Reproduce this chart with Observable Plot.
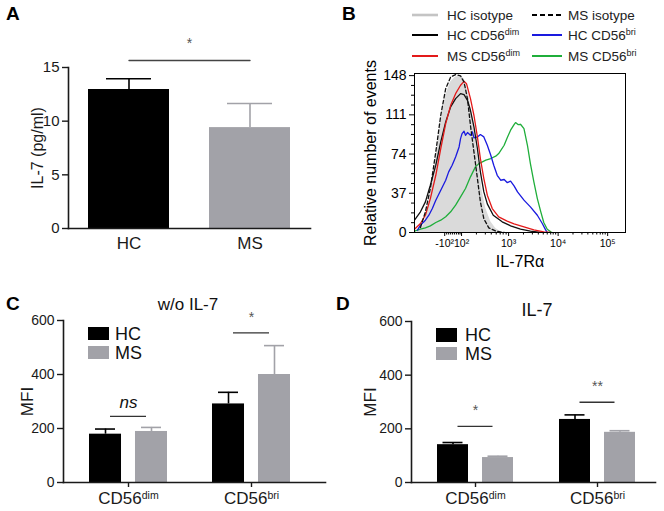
<!DOCTYPE html>
<html>
<head>
<meta charset="utf-8">
<script src="https://cdn.jsdelivr.net/npm/d3@7"></script>
<script src="https://cdn.jsdelivr.net/npm/@observablehq/plot@0.6"></script>
<style>
  body { margin: 0; background: #fff; }
  #fig { position: relative; width: 664px; height: 511px; overflow: hidden; background: #fff;
         font-family: Arial, "Liberation Sans", sans-serif; }
  #fig > svg { position: absolute; overflow: visible; }
</style>
</head>
<body>
<div id="fig"></div>
<script>
// ---------------- Panel A: serum IL-7 ----------------
const aGroups = ["HC", "MS"];
const aMean = [12.95, 9.4];
const aErr = [1.0, 2.25];
const aTicks = [0, 5, 10, 15];
const aSigLine = [15.65];
const aSigStar = [17.4];

// ---------------- Panel B: IL-7Rα histograms ----------------
// x = display position in decades of IL-7Rα fluorescence, y = relative number of events
const bTickPos = [1.71, 2.05, 3, 4, 5];
const bTickLab = ["-10²", "10²", "10³", "10⁴", "10⁵"];
const bYTicks = [0, 37, 74, 111, 148];
const bMinorY = [9.25, 18.5, 27.75, 46.25, 55.5, 64.75, 83.25, 92.5, 101.75, 120.25, 129.5, 138.75];
const bMinorX = [1.75, 1.79, 1.83, 1.87, 1.91, 1.95, 1.99, 2.02,
                 2.35, 2.53, 2.65, 2.75, 2.83, 2.89, 2.95,
                 3.30, 3.48, 3.60, 3.70, 3.78, 3.85, 3.90, 3.95,
                 4.30, 4.48, 4.60, 4.70, 4.78, 4.85, 4.90, 4.95];

const hcIsoX = [1.16,1.29,1.42,1.53,1.63,1.73,1.83,1.93,2.03,2.10,2.20,2.30,2.40,2.47,2.54,2.64,2.74,2.84,2.94];
const hcIsoY = [1.3,6.9,35.2,69.8,104.3,129.4,142,146.7,147.5,145,129.4,98,63.5,38.3,22.6,10.1,3.8,0.6,0];

const msIsoX = [1.22,1.32,1.42,1.53,1.63,1.73,1.83,1.93,2.03,2.10,2.17,2.23,2.30,2.37,2.43,2.50,2.60,2.74,2.91];
const msIsoY = [4.7,19.5,41.5,76,110.6,135.7,146.7,149,147.7,142,126,101,76,51,29,13,4.4,1.3,0];

const hcDimX = [1.10,1.22,1.32,1.42,1.53,1.63,1.73,1.83,1.93,2.03,2.10,2.17,2.23,2.30,2.37,2.43,2.50,2.57,2.69,2.87,3.04,3.24,3.44,3.65];
const hcDimY = [11.6,19.5,28.9,44.6,63.5,85.5,104.3,118.5,126.3,131,130.1,124.7,115.3,99.6,79.2,57.2,38.3,27,16.3,10.1,6.3,3.1,1.3,0];

const msDimX = [1.10,1.22,1.32,1.42,1.53,1.63,1.73,1.83,1.93,2.03,2.10,2.15,2.23,2.30,2.37,2.43,2.50,2.57,2.67,2.80,2.97,3.11,3.31,3.51,3.71,3.85];
const msDimY = [3.1,8.5,16.3,32,54,79.2,102.7,120,131,138.9,142.6,140.4,126.3,110.6,90.2,69.8,50.9,35.2,22.6,14.8,10.7,8.2,5.3,2.5,0.6,0];

const hcBriX = [1.16,1.22,1.32,1.39,1.46,1.53,1.63,1.73,1.79,1.86,1.93,2.00,2.03,2.06,2.10,2.13,2.17,2.23,2.27,2.30,2.37,2.43,2.50,2.57,2.64,2.70,2.77,2.84,2.91,2.97,3.04,3.11,3.18,3.31,3.44,3.58,3.68,3.75,3.78];
const hcBriY = [2.2,6.9,11.6,16.3,22.6,30.5,39.9,49.3,57.2,63.5,71.3,80.7,88.6,93.3,95.5,91.7,94.3,91.7,94.9,89.2,90.2,92.4,90.2,82.3,72.9,63.5,54,49.3,50,47.1,48.4,44,38.3,30.5,24.2,16.3,8.5,2.2,0];

const msBriX = [1.10,1.22,1.32,1.42,1.53,1.63,1.73,1.83,1.93,2.03,2.13,2.23,2.33,2.40,2.47,2.54,2.64,2.74,2.80,2.91,2.97,3.04,3.11,3.14,3.19,3.24,3.31,3.38,3.44,3.51,3.58,3.65,3.71,3.78,3.85,3.88];
const msBriY = [1.3,3.1,4.4,6.3,9.4,11.6,14.8,19.5,25.8,33.6,41.5,52.5,61.9,65,66.6,68.2,69.8,72,74.5,82.3,89.2,96.5,101.8,103.7,101.8,102.1,98,82.3,65,47.8,32,19.5,9.4,3.1,0.6,0];

// ---------------- Panels C & D: MFI ----------------
const cdCats = ["CD56^dim", "CD56^bri"];
const mfiTicks = [0, 200, 400, 600];
const cHC = [179, 291], cHCErr = [19, 43];
const cMS = [189, 400], cMSErr = [15, 107];
const cSigLine = [245, 554], cSigText = ["ns", "*"], cSigTextY = [293, 622];
const dHC = [141, 235], dHCErr = [8, 17];
const dMS = [93, 187], dMSErr = [5, 6];
const dSigLine = [209, 299], dSigText = ["*", "**"], dSigTextY = [280, 369];

// ---------------- helpers ----------------
const FONT = 'Arial, "Liberation Sans", sans-serif';
const INK = "#1a1a1a";
const GRAY = "#a2a2a8";
const fig = document.getElementById("fig");

function place(svg, left, top) {
  svg.style.left = left + "px";
  svg.style.top = top + "px";
  fig.appendChild(svg);
}
function superscripts(svg) {
  svg.querySelectorAll("text, tspan").forEach(el => {
    if (el.childNodes.length === 1 && el.firstChild.nodeType === 3 && el.textContent.includes("^")) {
      const [base, sup] = el.textContent.split("^");
      el.textContent = "";
      const ns = "http://www.w3.org/2000/svg";
      const t1 = document.createElementNS(ns, "tspan"); t1.textContent = base;
      const t2 = document.createElementNS(ns, "tspan"); t2.textContent = sup;
      t2.setAttribute("dy", "-0.45em"); t2.setAttribute("font-size", "0.62em");
      el.appendChild(t1); el.appendChild(t2);
    }
  });
}

// ---------------- Panel A ----------------
{
  const rows = aGroups.map((g, i) => ({g, v: aMean[i], top: aMean[i] + aErr[i]}));
  const svg = Plot.plot({
    width: 330, height: 260,
    marginLeft: 68, marginRight: 20, marginTop: 67, marginBottom: 32,
    style: {background: "none", fontFamily: FONT, color: INK, overflow: "visible"},
    x: {domain: aGroups, paddingInner: 0.33, paddingOuter: 0.165},
    y: {domain: [0, 15]},
    color: {domain: aGroups, range: ["#000000", GRAY]},
    marks: [
      Plot.ruleX(rows, {x: "g", y1: "v", y2: "top", stroke: "g", strokeWidth: 1.6}),
      Plot.tickY(rows, {x: "g", y: "top", stroke: "g", strokeWidth: 1.6, insetLeft: 18, insetRight: 18}),
      Plot.barY(rows, {x: "g", y: "v", fill: "g"}),
      Plot.frame({anchor: "left", stroke: INK, strokeWidth: 1.6}),
      Plot.frame({anchor: "bottom", stroke: INK, strokeWidth: 1.6}),
      Plot.axisY({ticks: aTicks, tickSize: 6, tickPadding: 3, fontSize: 15, strokeWidth: 1.4,
                  label: "IL-7 (pg/ml)", labelAnchor: "center", labelOffset: 37, labelArrow: "none"}),
      Plot.axisX({tickSize: 0, tickPadding: 8, fontSize: 17, label: null}),
      Plot.lineY(aGroups.map(g => ({g, y: aSigLine[0]})), {x: "g", y: "y", stroke: "#444", strokeWidth: 1.4}),
      Plot.text(aSigStar, {y: d => d, frameAnchor: "middle", text: () => "*", fontSize: 14, fill: "#555", dy: 2})
    ]
  });
  svg.querySelectorAll("[aria-label='y-axis label'] text").forEach(t => t.setAttribute("font-size", "16"));
  place(svg, 0, 0);
}

// ---------------- Panel B ----------------
{
  const mk = (xs, ys) => xs.map((x, i) => ({x, y: ys[i]}));
  const svg = Plot.plot({
    width: 334, height: 275,
    marginLeft: 84, marginRight: 39, marginTop: 73, marginBottom: 43,
    style: {background: "none", fontFamily: FONT, color: "#000", overflow: "visible"},
    x: {domain: [1.10, 5.36]},
    y: {domain: [0, 150]},
    marks: [
      Plot.areaY(mk(hcIsoX, hcIsoY), {x: "x", y: "y", fill: "#dadada", clip: true}),
      Plot.lineY(mk(msBriX, msBriY), {x: "x", y: "y", stroke: "#1fae3a", strokeWidth: 1.3, clip: true}),
      Plot.lineY(mk(hcBriX, hcBriY), {x: "x", y: "y", stroke: "#1a1adf", strokeWidth: 1.3, clip: true}),
      Plot.lineY(mk(hcDimX, hcDimY), {x: "x", y: "y", stroke: "#111", strokeWidth: 1.3, clip: true}),
      Plot.lineY(mk(msDimX, msDimY), {x: "x", y: "y", stroke: "#e31a1a", strokeWidth: 1.3, clip: true}),
      Plot.lineY(mk(msIsoX, msIsoY), {x: "x", y: "y", stroke: "#111", strokeWidth: 1.3, strokeDasharray: "3.5,2.5", clip: true}),
      Plot.frame({stroke: "#000", strokeWidth: 1}),
      Plot.axisY({ticks: bYTicks, tickSize: 5, tickPadding: 3, fontSize: 14,
                  label: "Relative number of events", labelAnchor: "center", labelOffset: 50, labelArrow: "none"}),
      Plot.axisY({ticks: bMinorY, tickSize: 3, tickFormat: () => "", label: null}),
      Plot.axisX({ticks: bTickPos, tickSize: 4, tickPadding: 3, fontSize: 10.5,
                  tickFormat: d => bTickLab[bTickPos.indexOf(d)],
                  label: "IL-7Rα", labelAnchor: "center", labelOffset: 34, labelArrow: "none"}),
      Plot.axisX({ticks: bMinorX, tickSize: 2.5, tickFormat: () => "", label: null})
    ]
  });
  svg.querySelectorAll("[aria-label='x-axis label'] text, [aria-label='y-axis label'] text").forEach(t => t.setAttribute("font-size", "16"));
  place(svg, 330, 0);
}

// ---------------- Panels C & D ----------------
function mfiPanel({hc, hcErr, ms, msErr, sigLine, sigText, sigTextY, width, height, ml, mr, mt, mb, pi, po, align, labelOffset}) {
  const range = width - ml - mr;
  const step = range / (cdCats.length - pi + 2 * po);
  const bw = step * (1 - pi);
  const gap = 14;
  const barW = (bw - gap) / 2;
  const capW = 20;
  const hcRows = cdCats.map((c, i) => ({c, v: hc[i], top: hc[i] + hcErr[i]}));
  const msRows = cdCats.map((c, i) => ({c, v: ms[i], top: ms[i] + msErr[i]}));
  const sigRows = cdCats.map((c, i) => ({c, y: sigLine[i], ty: sigTextY[i], t: sigText[i]}));
  const nsRows = sigRows.filter(d => d.t === "ns");
  const starRows = sigRows.filter(d => d.t !== "ns");
  const off = bw / 2 - barW / 2;
  const svg = Plot.plot({
    width, height, marginLeft: ml, marginRight: mr, marginTop: mt, marginBottom: mb,
    style: {background: "none", fontFamily: FONT, color: INK, overflow: "visible"},
    x: {domain: cdCats, paddingInner: pi, paddingOuter: po, align},
    y: {domain: [0, 600]},
    marks: [
      Plot.ruleX(hcRows, {x: "c", y1: "v", y2: "top", dx: -off, stroke: "#000", strokeWidth: 1.6}),
      Plot.tickY(hcRows, {x: "c", y: "top", stroke: "#000", strokeWidth: 1.6,
                          insetLeft: barW / 2 - capW / 2, insetRight: bw - barW / 2 - capW / 2}),
      Plot.ruleX(msRows, {x: "c", y1: "v", y2: "top", dx: off, stroke: GRAY, strokeWidth: 1.6}),
      Plot.tickY(msRows, {x: "c", y: "top", stroke: GRAY, strokeWidth: 1.6,
                          insetLeft: bw - barW / 2 - capW / 2, insetRight: barW / 2 - capW / 2}),
      Plot.barY(hcRows, {x: "c", y: "v", fill: "#000", insetRight: bw - barW}),
      Plot.barY(msRows, {x: "c", y: "v", fill: GRAY, insetLeft: bw - barW}),
      Plot.frame({anchor: "left", stroke: INK, strokeWidth: 1.6}),
      Plot.frame({anchor: "bottom", stroke: INK, strokeWidth: 1.6}),
      Plot.axisY({ticks: mfiTicks, tickSize: 6, tickPadding: 3, fontSize: 14, strokeWidth: 1.4,
                  label: "MFI", labelAnchor: "center", labelOffset, labelArrow: "none"}),
      Plot.axisX({tickSize: 5, tickPadding: 4, fontSize: 17, strokeWidth: 1.4, label: null}),
      Plot.tickY(sigRows, {x: "c", y: "y", stroke: "#333", strokeWidth: 1.3, insetLeft: off - 2, insetRight: off - 2}),
      Plot.text(nsRows, {x: "c", y: "ty", text: "t", fontSize: 17, fontStyle: "italic", fill: "#111", dy: -1}),
      Plot.text(starRows, {x: "c", y: "ty", text: "t", fontSize: 14, fill: "#555", dy: 3})
    ]
  });
  superscripts(svg);
  svg.querySelectorAll("[aria-label='y-axis label'] text").forEach(t => t.setAttribute("font-size", "17"));
  return svg;
}

place(mfiPanel({hc: cHC, hcErr: cHCErr, ms: cMS, msErr: cMSErr, sigLine: cSigLine, sigText: cSigText, sigTextY: cSigTextY,
  width: 330, height: 251, ml: 63, mr: 5, mt: 60, mb: 29, pi: 0.366, po: 0.248, align: 0.43, labelOffset: 43}), 0, 260);
place(mfiPanel({hc: dHC, hcErr: dHCErr, ms: dMS, msErr: dMSErr, sigLine: dSigLine, sigText: dSigText, sigTextY: dSigTextY,
  width: 334, height: 251, ml: 81, mr: 9, mt: 61, mb: 29, pi: 0.377, po: 0.1885, align: 0.565, labelOffset: 48}), 330, 260);

// ---------------- Overlay: panel letters, titles, legends ----------------
const ov = `
<svg width="664" height="511" style="left:0;top:0;pointer-events:none" font-family='${FONT}' xmlns="http://www.w3.org/2000/svg">
  <g font-weight="bold" font-size="19" fill="#000">
    <text x="6" y="20">A</text>
    <text x="342" y="20">B</text>
    <text x="6" y="310">C</text>
    <text x="336" y="310">D</text>
  </g>
  <text x="188" y="310" font-size="17" text-anchor="middle" fill="#111">w/o IL-7</text>
  <text x="537" y="316" font-size="18" text-anchor="middle" fill="#111">IL-7</text>

  <g font-size="13.5" fill="#222">
    <line x1="412" x2="438" y1="15" y2="15" stroke="#c4c4c4" stroke-width="2.6"/>
    <text x="447" y="20">HC isotype</text>
    <line x1="532" x2="562" y1="15" y2="15" stroke="#000" stroke-width="2" stroke-dasharray="5,3"/>
    <text x="568" y="20">MS isotype</text>
    <line x1="412" x2="438" y1="35" y2="35" stroke="#000" stroke-width="2"/>
    <text x="447" y="40">HC CD56<tspan dy="-5" font-size="9">dim</tspan></text>
    <line x1="532" x2="562" y1="35" y2="35" stroke="#1a1adf" stroke-width="2"/>
    <text x="568" y="40">HC CD56<tspan dy="-5" font-size="9">bri</tspan></text>
    <line x1="412" x2="438" y1="56" y2="56" stroke="#e31a1a" stroke-width="2"/>
    <text x="447" y="61">MS CD56<tspan dy="-5" font-size="9">dim</tspan></text>
    <line x1="532" x2="562" y1="56" y2="56" stroke="#1fae3a" stroke-width="2"/>
    <text x="568" y="61">MS CD56<tspan dy="-5" font-size="9">bri</tspan></text>
  </g>

  <g font-size="18" fill="#111">
    <rect x="88" y="327" width="21" height="13" fill="#000"/>
    <text x="115" y="340">HC</text>
    <rect x="88" y="346" width="21" height="13" fill="${GRAY}"/>
    <text x="115" y="359">MS</text>
    <rect x="436" y="328" width="21" height="14" fill="#000"/>
    <text x="465" y="341">HC</text>
    <rect x="436" y="347" width="21" height="13" fill="${GRAY}"/>
    <text x="465" y="360">MS</text>
  </g>
</svg>`;
fig.insertAdjacentHTML("beforeend", ov);
</script>
</body>
</html>
